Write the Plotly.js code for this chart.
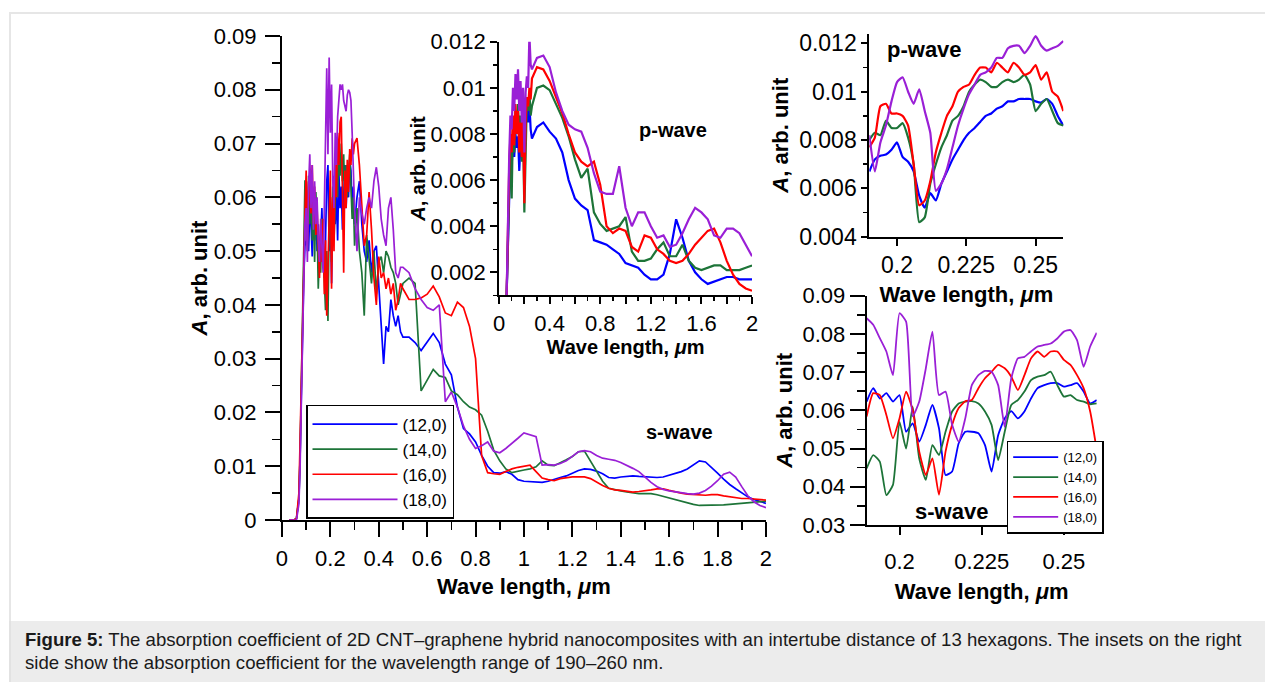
<!DOCTYPE html>
<html>
<head>
<meta charset="utf-8">
<script src="https://cdn.plot.ly/plotly-3.0.1.min.js"></script>
<style>
  html, body { margin:0; padding:0; width:1265px; height:682px; overflow:hidden; background:#ffffff; }
  #frame { position:absolute; left:9px; top:12px; width:1300px; height:700px; border-left:2px solid #e6e6e6; border-top:2px solid #e6e6e6; }
  #plot { position:absolute; left:0; top:0; width:1265px; height:620px; }
  #cap { position:absolute; left:9px; top:621px; width:1300px; height:61px; background:#ececec; border-left:2px solid #e2e2e2;
         font-family:Arial, "Liberation Sans", sans-serif; font-size:18.6px; line-height:23px; color:#1a1a1a;
         padding:7px 0 0 14px; box-sizing:border-box; white-space:nowrap; }
</style>
</head>
<body>
<div id="frame"></div>
<div id="plot"></div>
<div id="cap"><b>Figure 5:</b> The absorption coefficient of 2D CNT–graphene hybrid nanocomposites with an intertube distance of 13 hexagons. The insets on the right<br>side show the absorption coefficient for the wavelength range of 190–260 nm.</div>
<script>
// ---------- series names and colours ----------
const NAMES = ['(12,0)', '(14,0)', '(16,0)', '(18,0)'];
const COLORS = ['#0000ff', '#1d7438', '#ff0000', '#9a1fd6'];

// ---------- main chart (s-wave, 0-2 um) ----------
const X_MAIN = [0.03, 0.05, 0.06, 0.07, 0.075, 0.08, 0.085, 0.09, 0.095,
  0.100, 0.105, 0.110, 0.115, 0.120, 0.125, 0.130, 0.135, 0.140, 0.145,
  0.150, 0.155, 0.160, 0.165, 0.170, 0.175, 0.180, 0.185, 0.190, 0.195,
  0.200, 0.205, 0.210, 0.215, 0.220, 0.225, 0.230, 0.235, 0.240, 0.245,
  0.250, 0.255, 0.260, 0.265, 0.270, 0.275, 0.280, 0.285, 0.290, 0.295, 0.300,
  0.31, 0.32, 0.33, 0.34, 0.35, 0.36, 0.37, 0.38, 0.39, 0.40,
  0.41, 0.42, 0.43, 0.44, 0.45, 0.46, 0.47, 0.48, 0.49, 0.50,
  0.525, 0.55, 0.575, 0.60, 0.625, 0.65, 0.675, 0.70, 0.725, 0.75,
  0.775, 0.80, 0.825, 0.85, 0.875, 0.90, 0.925, 0.95, 0.975, 1.00,
  1.025, 1.05, 1.075, 1.10, 1.125, 1.15, 1.175, 1.20, 1.225, 1.25,
  1.275, 1.30, 1.325, 1.35, 1.375, 1.40, 1.425, 1.45, 1.475, 1.50,
  1.525, 1.55, 1.575, 1.60, 1.625, 1.65, 1.675, 1.70, 1.725, 1.75,
  1.775, 1.80, 1.825, 1.85, 1.875, 1.90, 1.925, 1.95, 1.975, 2.00];

const MAIN_12 = [0, 0, 0.0003, 0.004, 0.012, 0.024, 0.035, 0.045, 0.051,
  0.052, 0.060, 0.050, 0.058, 0.055, 0.049, 0.057, 0.052, 0.060, 0.050,
  0.055, 0.047, 0.053, 0.058, 0.049, 0.045, 0.052, 0.063, 0.066, 0.050,
  0.057, 0.044, 0.060, 0.064, 0.055, 0.061, 0.052, 0.065, 0.058, 0.062,
  0.054, 0.060, 0.066, 0.058, 0.064, 0.060, 0.067, 0.065, 0.058, 0.062, 0.055,
  0.060, 0.063, 0.055, 0.050, 0.048, 0.052, 0.046, 0.050, 0.051, 0.044,
  0.038, 0.029, 0.036, 0.035, 0.041, 0.038, 0.036, 0.038, 0.035, 0.034,
  0.034, 0.033, 0.0315, 0.033, 0.0347, 0.033, 0.029, 0.027, 0.021, 0.017,
  0.016, 0.0145, 0.012, 0.010, 0.0088, 0.0087, 0.0090, 0.0085, 0.0075, 0.0072,
  0.0071, 0.0070, 0.0070, 0.0072, 0.0076, 0.0079, 0.0082, 0.0087, 0.0092, 0.0095,
  0.0094, 0.0091, 0.0086, 0.0079, 0.0078, 0.0080, 0.0081, 0.0082, 0.0081, 0.0080,
  0.0079, 0.0079, 0.0080, 0.0083, 0.0086, 0.0090, 0.0095, 0.0103, 0.0110, 0.0108,
  0.0098, 0.0087, 0.0076, 0.0066, 0.0058, 0.0050, 0.0043, 0.0038, 0.0034, 0.0031];

const MAIN_14 = [0, 0, 0.0003, 0.004, 0.012, 0.025, 0.038, 0.055, 0.063,
  0.063, 0.050, 0.064, 0.055, 0.065, 0.052, 0.058, 0.048, 0.061, 0.055,
  0.043, 0.050, 0.046, 0.056, 0.050, 0.044, 0.039, 0.050, 0.037, 0.055,
  0.060, 0.048, 0.062, 0.052, 0.058, 0.066, 0.060, 0.070, 0.064, 0.070,
  0.063, 0.068, 0.059, 0.066, 0.060, 0.064, 0.068, 0.062, 0.056, 0.060, 0.051,
  0.058, 0.050, 0.046, 0.038, 0.053, 0.048, 0.044, 0.050, 0.042, 0.048,
  0.049, 0.046, 0.050, 0.049, 0.047, 0.046, 0.044, 0.040, 0.042, 0.044,
  0.045, 0.044, 0.024, 0.026, 0.028, 0.0268, 0.0265, 0.024, 0.0233, 0.022,
  0.021, 0.0205, 0.0195, 0.0165, 0.013, 0.011, 0.0095, 0.0088, 0.0091, 0.0093,
  0.0095, 0.0099, 0.0110, 0.0102, 0.0101, 0.0106, 0.0112, 0.0118, 0.0127, 0.0128,
  0.0110, 0.0091, 0.0072, 0.0059, 0.0056, 0.0054, 0.0052, 0.0050, 0.0049, 0.0049,
  0.0049, 0.0047, 0.0044, 0.0040, 0.0037, 0.0034, 0.0031, 0.0029, 0.0027, 0.0027,
  0.0027, 0.0027, 0.0028, 0.0029, 0.0030, 0.0031, 0.0032, 0.0033, 0.0034, 0.0035];

const MAIN_16 = [0, 0, 0.0003, 0.005, 0.015, 0.026, 0.040, 0.050, 0.057,
  0.065, 0.052, 0.063, 0.060, 0.057, 0.066, 0.055, 0.062, 0.053, 0.058,
  0.050, 0.045, 0.055, 0.048, 0.056, 0.042, 0.052, 0.038, 0.047, 0.059,
  0.065, 0.043, 0.060, 0.050, 0.067, 0.060, 0.072, 0.066, 0.074, 0.075,
  0.062, 0.046, 0.065, 0.058, 0.067, 0.061, 0.069, 0.066, 0.071, 0.068, 0.070,
  0.071, 0.066, 0.058, 0.051, 0.053, 0.061, 0.054, 0.045, 0.040, 0.049,
  0.045, 0.046, 0.043, 0.045, 0.042, 0.044, 0.039, 0.041, 0.044, 0.043,
  0.041, 0.041, 0.0413, 0.042, 0.0435, 0.0415, 0.0385, 0.038, 0.0405, 0.0395,
  0.036, 0.030, 0.012, 0.0088, 0.0086, 0.0085, 0.0090, 0.0095, 0.0098, 0.0100,
  0.0102, 0.0090, 0.0078, 0.0075, 0.0073, 0.0077, 0.0079, 0.0080, 0.0080, 0.0080,
  0.0077, 0.0070, 0.0064, 0.0059, 0.0056, 0.0055, 0.0053, 0.0052, 0.0053, 0.0054,
  0.0056, 0.0058, 0.0058, 0.0055, 0.0052, 0.0050, 0.0048, 0.0047, 0.0046, 0.0046,
  0.0047, 0.0047, 0.0045, 0.0043, 0.0041, 0.0040, 0.0040, 0.0039, 0.0038, 0.0037];

const MAIN_18 = [0, 0, 0, 0.003, 0.010, 0.022, 0.035, 0.049, 0.055,
  0.058, 0.048, 0.062, 0.068, 0.058, 0.066, 0.054, 0.063, 0.055, 0.060,
  0.052, 0.048, 0.056, 0.050, 0.046, 0.058, 0.075, 0.084, 0.068, 0.086,
  0.072, 0.081, 0.063, 0.058, 0.072, 0.066, 0.075, 0.078, 0.081, 0.080,
  0.081, 0.078, 0.077, 0.076, 0.079, 0.080, 0.0795, 0.078, 0.072, 0.064, 0.058,
  0.050, 0.060, 0.057, 0.055, 0.058, 0.060, 0.058, 0.063, 0.0656, 0.062,
  0.056, 0.053, 0.051, 0.058, 0.060, 0.054, 0.046, 0.045, 0.047, 0.047,
  0.046, 0.043, 0.041, 0.0395, 0.039, 0.040, 0.022, 0.0238, 0.021, 0.0175,
  0.015, 0.0133, 0.0138, 0.0145, 0.0128, 0.0125, 0.0133, 0.0142, 0.0152, 0.0162,
  0.0158, 0.0155, 0.0102, 0.0103, 0.0102, 0.0105, 0.0110, 0.0118, 0.0127, 0.0129,
  0.0127, 0.0120, 0.0115, 0.0113, 0.0111, 0.0107, 0.0102, 0.0096, 0.0090, 0.0080,
  0.0070, 0.0062, 0.0057, 0.0054, 0.0052, 0.0050, 0.0049, 0.0048, 0.0050, 0.0055,
  0.0063, 0.0073, 0.0085, 0.0089, 0.0080, 0.0062, 0.0045, 0.0034, 0.0027, 0.0023];

// ---------- inset (p-wave, 0-2 um) ----------
const X_P = [0.06, 0.07, 0.08, 0.09, 0.10, 0.11, 0.12, 0.13, 0.14, 0.15,
  0.16, 0.17, 0.18, 0.19, 0.20, 0.21, 0.22, 0.23, 0.24, 0.25, 0.26,
  0.30, 0.35, 0.40, 0.45, 0.50, 0.55, 0.60, 0.65, 0.70, 0.75,
  0.80, 0.85, 0.90, 0.95, 1.00, 1.05, 1.10, 1.15, 1.20, 1.25,
  1.30, 1.35, 1.40, 1.45, 1.50, 1.55, 1.60, 1.65, 1.70, 1.75,
  1.80, 1.85, 1.90, 1.95, 2.00];

const P_12 = [0.0010, 0.0035, 0.0058, 0.0072, 0.0066, 0.0078, 0.0070, 0.0080, 0.0074, 0.0079,
  0.0064, 0.0077, 0.0081, 0.0072, 0.0078, 0.0083, 0.0090, 0.0085, 0.0093, 0.0082, 0.0078,
  0.0083, 0.0085, 0.0081, 0.0078, 0.0072, 0.0060, 0.0052, 0.0049, 0.0047, 0.0034,
  0.0033, 0.0032, 0.0030, 0.0028, 0.0024, 0.0023, 0.0022, 0.0019, 0.0017, 0.0017,
  0.0019, 0.0028, 0.0043, 0.0035, 0.0025, 0.0020, 0.0017, 0.0015, 0.0016, 0.0017,
  0.0018, 0.0018, 0.0017, 0.0017, 0.0017];
const P_14 = [0.0010, 0.0035, 0.0060, 0.0078, 0.0052, 0.0085, 0.0072, 0.0090, 0.0080, 0.0093,
  0.0075, 0.0088, 0.0068, 0.0082, 0.0046, 0.0080, 0.0095, 0.0090, 0.0098, 0.0088, 0.0092,
  0.0100, 0.0101, 0.0099, 0.0093, 0.0087, 0.0079, 0.0069, 0.0061, 0.0065, 0.0046,
  0.0041, 0.0038, 0.0039, 0.0040, 0.0044, 0.0029, 0.0025, 0.0025, 0.0026, 0.0030,
  0.0033, 0.0027, 0.0027, 0.0032, 0.0025, 0.0022, 0.0021, 0.0022, 0.0023, 0.0023,
  0.0021, 0.0021, 0.0021, 0.0022, 0.0023];
const P_16 = [0.0010, 0.0040, 0.0065, 0.0080, 0.0072, 0.0088, 0.0075, 0.0093, 0.0080, 0.0090,
  0.0072, 0.0085, 0.0070, 0.0088, 0.0050, 0.0085, 0.0096, 0.0092, 0.0100, 0.0095, 0.0104,
  0.0109, 0.0108, 0.0103, 0.0096, 0.0089, 0.0080, 0.0072, 0.0068, 0.0066, 0.0068,
  0.0058, 0.0040, 0.0037, 0.0039, 0.0038, 0.0031, 0.0029, 0.0036, 0.0035, 0.0030,
  0.0028, 0.0025, 0.0024, 0.0025, 0.0028, 0.0032, 0.0035, 0.0038, 0.0039, 0.0033,
  0.0025, 0.0019, 0.0015, 0.0013, 0.0012];
const P_18 = [0.0010, 0.0045, 0.0070, 0.0088, 0.0082, 0.0100, 0.0090, 0.0106, 0.0095, 0.0108,
  0.0090, 0.0103, 0.0085, 0.0100, 0.0072, 0.0098, 0.0105, 0.0100, 0.0123, 0.0110, 0.0108,
  0.0113, 0.0114, 0.0109, 0.0098, 0.0090, 0.0084, 0.0082, 0.0081, 0.0074, 0.0063,
  0.0055, 0.0054, 0.0054, 0.0066, 0.0048, 0.0040, 0.0046, 0.0046, 0.0040, 0.0035,
  0.0036, 0.0031, 0.0032, 0.0037, 0.0043, 0.0048, 0.0046, 0.0043, 0.0036, 0.0035,
  0.0039, 0.0039, 0.0037, 0.0032, 0.0027];
const P_TICKVALS = [0, 0.2, 0.4, 0.6, 0.8, 1.0, 1.2, 1.4, 1.6, 1.8, 2.0];
const P_TICKTEXT = ['0', '', '0.4', '', '0.8', '', '1.2', '', '1.6', '', '2'];

// ---------- right insets (190-260 nm) ----------
const X_R = [0.190, 0.192, 0.194, 0.196, 0.198, 0.200, 0.202, 0.204, 0.206, 0.208,
  0.210, 0.212, 0.214, 0.216, 0.218, 0.220, 0.222, 0.224, 0.226, 0.228,
  0.230, 0.232, 0.234, 0.236, 0.238, 0.240, 0.242, 0.244, 0.246, 0.248,
  0.250, 0.252, 0.254, 0.256, 0.258, 0.260];
const R_TICKVALS = [0.2, 0.225, 0.25];
const R_TICKTEXT = ['0.2', '0.225', '0.25'];

const RP_12 = [0.0067, 0.0072, 0.00735, 0.0074, 0.0076, 0.0079, 0.0073, 0.0071, 0.0067, 0.0057,
  0.0052, 0.0058, 0.0055, 0.0062, 0.0067, 0.0072, 0.0076, 0.0080, 0.0083, 0.0085,
  0.00875, 0.0090, 0.0091, 0.0093, 0.0094, 0.0096, 0.0096, 0.0097, 0.0097, 0.0097,
  0.0096, 0.00955, 0.0097, 0.0095, 0.0090, 0.0086];
const RP_14 = [0.0080, 0.0083, 0.0082, 0.0088, 0.0085, 0.0085, 0.0087, 0.0081, 0.0070, 0.0046,
  0.0048, 0.0062, 0.0070, 0.0077, 0.0082, 0.0088, 0.0090, 0.0094, 0.0100, 0.0103,
  0.0105, 0.0104, 0.0102, 0.0102, 0.0104, 0.0105, 0.0104, 0.0105, 0.0107, 0.0103,
  0.0092, 0.0095, 0.0097, 0.0092, 0.0087, 0.0086];
const RP_16 = [0.0077, 0.0081, 0.0094, 0.0095, 0.0091, 0.0091, 0.0090, 0.0086, 0.0070, 0.0053,
  0.0055, 0.0063, 0.0075, 0.0083, 0.0090, 0.0094, 0.0100, 0.0102, 0.0103, 0.0107,
  0.0110, 0.0110, 0.0108, 0.0112, 0.0110, 0.0108, 0.0112, 0.0110, 0.0107, 0.0108,
  0.0111, 0.0105, 0.0108, 0.0100, 0.0098, 0.0092];
const RP_18 = [0.0082, 0.0067, 0.0079, 0.0086, 0.0096, 0.0104, 0.0106, 0.0100, 0.0095, 0.0101,
  0.0092, 0.0083, 0.0059, 0.0062, 0.0068, 0.0077, 0.0086, 0.0093, 0.0099, 0.0103,
  0.0107, 0.0108, 0.0110, 0.0114, 0.0114, 0.0118, 0.0119, 0.0119, 0.0116, 0.0119,
  0.0123, 0.0119, 0.0117, 0.0118, 0.0119, 0.0121];

const RS_12 = [0.0623, 0.0658, 0.0631, 0.0645, 0.0623, 0.0640, 0.0544, 0.0566, 0.0518, 0.0562,
  0.0614, 0.0553, 0.0431, 0.0440, 0.0514, 0.0544, 0.0544, 0.0540, 0.0509, 0.0440,
  0.0535, 0.0579, 0.0598, 0.0579, 0.0597, 0.0631, 0.0658, 0.0666, 0.0671, 0.0671,
  0.0662, 0.0666, 0.0671, 0.0649, 0.0618, 0.0627];
const RS_14 = [0.0448, 0.0483, 0.0466, 0.0378, 0.0405, 0.0570, 0.0500, 0.0610, 0.0474, 0.0418,
  0.0509, 0.0483, 0.0544, 0.0597, 0.0618, 0.0623, 0.0624, 0.0618, 0.0597, 0.0562,
  0.0470, 0.0544, 0.0614, 0.0627, 0.0649, 0.0679, 0.0688, 0.0692, 0.0701, 0.0666,
  0.0636, 0.0640, 0.0627, 0.0623, 0.0616, 0.0618];
const RS_16 = [0.0584, 0.0645, 0.0640, 0.0588, 0.0527, 0.0579, 0.0649, 0.0601, 0.0492, 0.0431,
  0.0474, 0.0379, 0.0492, 0.0562, 0.0606, 0.0624, 0.0627, 0.0658, 0.0684, 0.0701,
  0.0719, 0.0710, 0.0688, 0.0653, 0.0692, 0.0736, 0.0754, 0.0740, 0.0754, 0.0754,
  0.0732, 0.0719, 0.0692, 0.0658, 0.0597, 0.0496];
const RS_18 = [0.0841, 0.0824, 0.0789, 0.0754, 0.0692, 0.0854, 0.0832, 0.0584, 0.0623, 0.0710,
  0.0806, 0.0640, 0.0649, 0.0562, 0.0518, 0.0579, 0.0666, 0.0692, 0.0703, 0.0701,
  0.0666, 0.0557, 0.0684, 0.0736, 0.0740, 0.0754, 0.0767, 0.0771, 0.0775, 0.0788,
  0.0806, 0.0810, 0.0784, 0.0714, 0.0767, 0.0803];

// ---------- build traces ----------
const FONT = 'Arial, "Liberation Sans", sans-serif';
const mainY = [MAIN_12, MAIN_14, MAIN_16, MAIN_18];
const pY = [P_12, P_14, P_16, P_18];
const rpY = [RP_12, RP_14, RP_16, RP_18];
const rsY = [RS_12, RS_14, RS_16, RS_18];
const traces = [];
for (let i = 0; i < 4; i++) {
  traces.push({x: X_MAIN, y: mainY[i], type: 'scatter', mode: 'lines', name: NAMES[i],
    line: {color: COLORS[i], width: 1.7}, xaxis: 'x', yaxis: 'y', legend: 'legend', showlegend: true});
}
for (let i = 0; i < 4; i++) {
  traces.push({x: X_P, y: pY[i], type: 'scatter', mode: 'lines', name: NAMES[i],
    line: {color: COLORS[i], width: 2.2}, xaxis: 'x2', yaxis: 'y2', showlegend: false});
}
for (let i = 0; i < 4; i++) {
  traces.push({x: X_R, y: rpY[i], type: 'scatter', mode: 'lines', name: NAMES[i],
    line: {color: COLORS[i], width: 2.2, shape: 'spline', smoothing: 0.5}, xaxis: 'x3', yaxis: 'y3', showlegend: false});
}
for (let i = 0; i < 4; i++) {
  traces.push({x: X_R, y: rsY[i], type: 'scatter', mode: 'lines', name: NAMES[i],
    line: {color: COLORS[i], width: 1.8, shape: 'spline', smoothing: 0.5}, xaxis: 'x4', yaxis: 'y4', legend: 'legend2', showlegend: true});
}

function ax(extra) {
  return Object.assign({
    showline: true, linecolor: '#000', linewidth: 2, ticks: 'outside', tickcolor: '#000', tickwidth: 2,
    showgrid: false, zeroline: false, exponentformat: 'none', fixedrange: true,
    tickfont: {family: FONT, size: 22, color: '#000'}
  }, extra);
}
const titleFont = {family: FONT, size: 22, color: '#000'};
const XT = '<b>Wave length, <i>μ</i>m</b>';
const YT = '<b><i>A</i>, arb. unit</b>';

const layout = {
  width: 1265, height: 620,
  margin: {l: 0, r: 0, t: 0, b: 0},
  paper_bgcolor: 'rgba(0,0,0,0)', plot_bgcolor: 'rgba(0,0,0,0)',
  font: {family: FONT, color: '#000'},
  xaxis: ax({domain: [0.2229, 0.6055], anchor: 'y', range: [0, 2], tick0: 0, dtick: 0.2, ticklen: 15,
    ticklabelstandoff: 3,
    minor: {dtick: 0.1, ticklen: 8, ticks: 'outside', tickcolor: '#000', tickwidth: 1.5},
    title: {text: XT, font: titleFont, standoff: 8}}),
  yaxis: ax({domain: [0.1613, 0.9419], anchor: 'x', range: [0, 0.09], tick0: 0, dtick: 0.01, ticklen: 15,
    ticklabelstandoff: 4,
    minor: {dtick: 0.005, ticklen: 8, ticks: 'outside', tickcolor: '#000', tickwidth: 1.5},
    title: {text: YT, font: titleFont, standoff: 0}}),
  xaxis2: ax({domain: [0.3945, 0.5945], anchor: 'y2', range: [0, 2], tickmode: 'array', tickvals: P_TICKVALS, ticktext: P_TICKTEXT,
    ticklen: 7, minor: {dtick: 0.1, ticklen: 4, ticks: 'outside', tickcolor: '#000', tickwidth: 1.5},
    title: {text: XT, font: {family: FONT, size: 20, color: '#000'}, standoff: 3}}),
  yaxis2: ax({domain: [0.5235, 0.9327], anchor: 'x2', range: [0.001, 0.012], tick0: 0, dtick: 0.002, ticklen: 7,
    minor: {dtick: 0.001, ticklen: 4, ticks: 'outside', tickcolor: '#000', tickwidth: 1.5},
    title: {text: YT, font: {family: FONT, size: 20, color: '#000'}, standoff: 0}}),
  xaxis3: ax({domain: [0.6872, 0.8406], anchor: 'y3', range: [0.19, 0.26], tickmode: 'array', tickvals: R_TICKVALS, ticktext: R_TICKTEXT,
    ticklen: 7, tickfont: {family: FONT, size: 23, color: '#000'},
    title: {text: XT, font: titleFont, standoff: 9}}),
  yaxis3: ax({domain: [0.6182, 0.9456], anchor: 'x3', range: [0.004, 0.0124], tick0: 0, dtick: 0.002, ticklen: 6,
    tickfont: {family: FONT, size: 23, color: '#000'},
    minor: {dtick: 0.001, ticklen: 4, ticks: 'outside', tickcolor: '#000', tickwidth: 1.5},
    title: {text: YT, font: titleFont, standoff: 4}}),
  xaxis4: ax({domain: [0.6851, 0.8670], anchor: 'y4', range: [0.19, 0.26], tickmode: 'array', tickvals: R_TICKVALS, ticktext: R_TICKTEXT,
    ticklen: 8, ticklabelstandoff: 8, title: {text: XT, font: titleFont, standoff: 10}}),
  yaxis4: ax({domain: [0.1532, 0.5231], anchor: 'x4', range: [0.03, 0.09], tick0: 0, dtick: 0.01, ticklen: 15,
    minor: {dtick: 0.005, ticklen: 8, ticks: 'outside', tickcolor: '#000', tickwidth: 1.5},
    title: {text: YT, font: titleFont, standoff: 4}}),
  legend: {x: 0.2419, y: 0.3468, xanchor: 'left', yanchor: 'top', bgcolor: '#fff', bordercolor: '#000', borderwidth: 1.5,
    font: {family: FONT, size: 17, color: '#000'}, itemwidth: 85, traceorder: 'normal'},
  legend2: {x: 0.7958, y: 0.2892, xanchor: 'left', yanchor: 'top', bgcolor: '#fff', bordercolor: '#000', borderwidth: 1.5,
    font: {family: FONT, size: 13, color: '#000'}, itemwidth: 45, traceorder: 'normal'},
  annotations: [
    {text: '<b>p-wave</b>', xref: 'paper', yref: 'paper', x: 0.5320, y: 0.7903, xanchor: 'center', yanchor: 'middle', showarrow: false, font: {family: FONT, size: 20, color: '#000'}},
    {text: '<b>s-wave</b>', xref: 'paper', yref: 'paper', x: 0.5368, y: 0.3032, xanchor: 'center', yanchor: 'middle', showarrow: false, font: {family: FONT, size: 20, color: '#000'}},
    {text: '<b>p-wave</b>', xref: 'paper', yref: 'paper', x: 0.7312, y: 0.9194, xanchor: 'center', yanchor: 'middle', showarrow: false, font: {family: FONT, size: 22, color: '#000'}},
    {text: '<b>s-wave</b>', xref: 'paper', yref: 'paper', x: 0.7518, y: 0.1742, xanchor: 'center', yanchor: 'middle', showarrow: false, font: {family: FONT, size: 22, color: '#000'}}
  ]
};

Plotly.newPlot('plot', traces, layout, {staticPlot: true, displayModeBar: false});
</script>
</body>
</html>
